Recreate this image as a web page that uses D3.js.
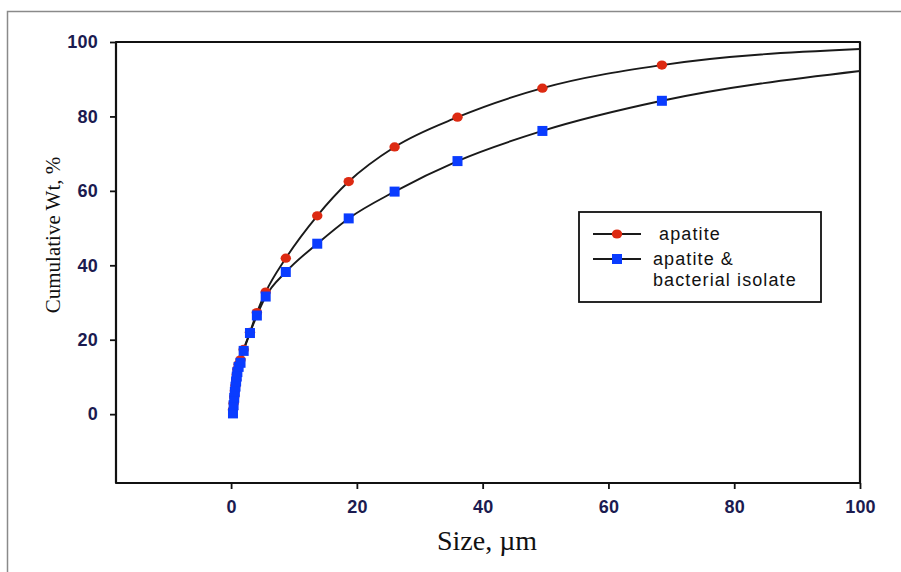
<!DOCTYPE html>
<html>
<head>
<meta charset="utf-8">
<script src="https://cdn.jsdelivr.net/npm/d3@7/dist/d3.min.js"></script>
<style>
  html, body { margin: 0; padding: 0; background: #fff; }
  svg { display: block; }
</style>
</head>
<body>
<svg id="chart" width="901" height="572"></svg>
<script>
// ---- data ----
const sizes = [0.3, 0.4, 0.5, 0.6, 0.7, 0.8, 0.9, 1.0, 1.2, 1.5, 2.0, 3.0, 4.1, 5.5, 8.7, 13.7, 18.7, 26.0, 36.0, 49.5, 68.5];
const apatite = [1.2, 2.9, 4.6, 6.3, 7.7, 9.2, 10.6, 12.0, 13.4, 14.6, 17.4, 22.0, 27.3, 32.8, 41.9, 53.3, 62.5, 71.8, 79.8, 87.6, 93.8];
const apatiteBacterial = [0.2, 2.4, 4.4, 6.0, 7.4, 8.8, 10.1, 11.3, 12.7, 13.8, 17.0, 21.8, 26.5, 31.6, 38.2, 45.8, 52.6, 59.8, 68.0, 76.1, 84.2];
// curve continues (without markers) to the right edge of the plot
const tailSize = 100;
const apatiteTail = 98.1;
const apatiteBacterialTail = 92.2;

const xTicks = [0, 20, 40, 60, 80, 100];
const yTicks = [0, 20, 40, 60, 80, 100];
const xTitle = "Size, \u00b5m";
const yTitle = "Cumulative Wt, %";
const legendLabels = [" apatite", "apatite &", "bacterial isolate"];

// ---- layout ----
const svg = d3.select("#chart");
const L = 116, R = 860, T = 42, B = 483;

const x = d3.scaleLinear().domain([-18.3, 100]).range([L, R]);
const y = d3.scaleLinear().domain([-18.5, 100]).range([B, T]);

// outer figure frame (grey, top + left)
svg.append("path")
  .attr("d", d3.line()([[7.5, 572], [7.5, 11.5], [901, 11.5]]))
  .attr("fill", "none").attr("stroke", "#8a8a8a").attr("stroke-width", 1.5);

const tickColor = "#1b1b50";
const tickFont = "Arial, 'Liberation Sans', sans-serif";

// axes
const gx = svg.append("g").attr("transform", `translate(0,${B})`)
  .call(d3.axisBottom(x).tickValues(xTicks).tickSize(6).tickSizeOuter(0).tickPadding(11).tickFormat(d3.format("d")));
const gy = svg.append("g").attr("transform", `translate(${L},0)`)
  .call(d3.axisLeft(y).tickValues(yTicks).tickSize(6).tickSizeOuter(0).tickPadding(12).tickFormat(d3.format("d")));
[gx, gy].forEach(g => {
  g.select(".domain").remove();
  g.selectAll(".tick line").attr("stroke", "#111").attr("stroke-width", 1.8);
  g.selectAll(".tick text")
    .attr("fill", tickColor)
    .style("font-family", tickFont)
    .style("font-size", "18px")
    .style("font-weight", "bold")
    .style("letter-spacing", "0.2px");
});

// plot frame
svg.append("rect")
  .attr("x", L).attr("y", T).attr("width", R - L).attr("height", B - T)
  .attr("fill", "none").attr("stroke", "#111").attr("stroke-width", 2.2)
  .attr("stroke-linejoin", "round");

// clip for curves
svg.append("clipPath").attr("id", "clip")
  .append("rect").attr("x", L).attr("y", T).attr("width", R - L).attr("height", B - T);

const line = d3.line().x(d => x(d[0])).y(d => y(d[1])).curve(d3.curveMonotoneX);

const series = [
  { vals: apatite, tail: apatiteTail, color: "#dd2a12", shape: "circle" },
  { vals: apatiteBacterial, tail: apatiteBacterialTail, color: "#0a3cff", shape: "square" }
];

series.forEach(s => {
  const pts = sizes.map((sz, i) => [sz, s.vals[i]]);
  pts.push([tailSize, s.tail]);
  svg.append("path")
    .attr("clip-path", "url(#clip)")
    .attr("d", line(pts))
    .attr("fill", "none").attr("stroke", "#1a1a1a").attr("stroke-width", 1.9);
});

function drawMarker(g, shape, color, cx, cy) {
  if (shape === "circle") {
    g.append("ellipse").attr("cx", cx).attr("cy", cy).attr("rx", 5.2).attr("ry", 4.6)
      .attr("fill", color);
  } else {
    g.append("rect").attr("x", cx - 5).attr("y", cy - 5).attr("width", 10).attr("height", 10)
      .attr("fill", color);
  }
}

series.forEach(s => {
  const g = svg.append("g");
  sizes.forEach((sz, i) => drawMarker(g, s.shape, s.color, x(sz), y(s.vals[i])));
});

// axis titles
svg.append("text")
  .attr("x", 487).attr("y", 550)
  .attr("text-anchor", "middle")
  .style("font-family", "'Times New Roman', 'Liberation Serif', serif")
  .style("font-size", "28px")
  .attr("fill", "#111")
  .text(xTitle);

svg.append("text")
  .attr("transform", "translate(60,235) rotate(-90)")
  .attr("text-anchor", "middle")
  .style("font-family", "'Times New Roman', 'Liberation Serif', serif")
  .style("font-size", "21px")
  .attr("fill", "#111")
  .text(yTitle);

// legend
const lg = svg.append("g");
lg.append("rect").attr("x", 579).attr("y", 212).attr("width", 242).attr("height", 90)
  .attr("fill", "#fff").attr("stroke", "#111").attr("stroke-width", 1.8);
const legendRows = [
  { yy: 234, s: series[0], lines: [legendLabels[0]] },
  { yy: 259, s: series[1], lines: [legendLabels[1], legendLabels[2]] }
];
legendRows.forEach(r => {
  lg.append("line").attr("x1", 593).attr("x2", 641).attr("y1", r.yy).attr("y2", r.yy)
    .attr("stroke", "#1a1a1a").attr("stroke-width", 1.8);
  drawMarker(lg, r.s.shape, r.s.color, 617, r.yy);
  r.lines.forEach((t, k) => {
    lg.append("text")
      .attr("x", 653).attr("y", r.yy + 6 + k * 21)
      .attr("xml:space", "preserve")
      .style("white-space", "pre")
      .style("font-family", tickFont)
      .style("font-size", "18px")
      .style("letter-spacing", "1.1px")
      .attr("fill", "#111")
      .text(t);
  });
});
</script>
</body>
</html>
